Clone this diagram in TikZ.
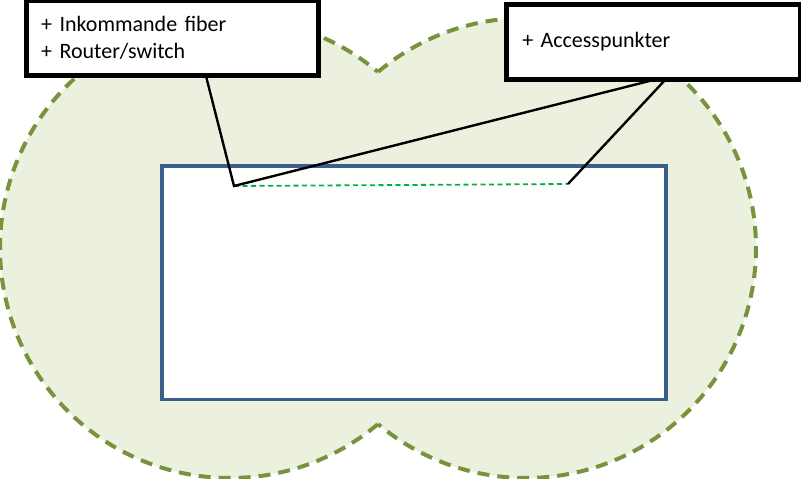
\documentclass[tikz,border=0pt]{standalone}
\usepackage{fontspec}
\setmainfont{Carlito}
\definecolor{zonefill}{HTML}{EBF1DE}
\definecolor{zoneline}{HTML}{77933C}
\definecolor{roomblue}{HTML}{3A5F8D}
\definecolor{linkgreen}{HTML}{00B050}
\begin{document}
\begin{tikzpicture}[x=1pt,y=-1pt,
  zone/.style={draw=zoneline,line width=4pt,dash pattern=on 12pt off 8pt},
  callout/.style={draw=black,line width=3.2pt,fill=white,rectangle,inner sep=0pt,
     font=\fontsize{22}{27}\selectfont,align=left},
  pointer/.style={draw=black,line width=2.4pt},
  link/.style={draw=linkgreen,line width=1.8pt,dash pattern=on 5pt off 3.5pt}]
\useasboundingbox (0,0) rectangle (801,479);
% coverage zones
\coordinate (c1) at (230,248);
\coordinate (c2) at (526,248);
\fill[zonefill] (c1) circle[radius=230];
\fill[zonefill] (c2) circle[radius=230];
\draw[zone] (c1) ++(50:230) arc[start angle=50,end angle=310,radius=230];
\draw[zone] (c2) ++(230:230) arc[start angle=230,end angle=490,radius=230];
% room
\draw[draw=roomblue,line width=3.6pt,fill=white] (161.7,165.7) rectangle (665.7,399.3);
% link points
\coordinate (p1) at (234,186);
\coordinate (p2) at (568,184);
\draw[link] (p1) -- (p2);
% callouts
\node[callout,minimum width=290.5pt,minimum height=73pt,text width=262pt] (box1) at (172.25,38)
  {+ Inkommande fiber\\+ Router/switch};
\node[callout,minimum width=292.5pt,minimum height=73pt,text width=262pt] (box2) at (653.25,42)
  {+ Accesspunkter};
\coordinate (a1) at ([xshift=33.75pt]box1.south);
\coordinate (a2) at ([xshift=-0.25pt]box2.south);
\coordinate (a3) at ([xshift=11.75pt]box2.south);
\draw[pointer] (a1) -- (p1) -- (a2);
\draw[pointer] (a3) -- (p2);
% redraw box borders on top of pointer ends
\draw[draw=black,line width=3.2pt] (box1.south west) rectangle (box1.north east);
\draw[draw=black,line width=3.2pt] (box2.south west) rectangle (box2.north east);
\end{tikzpicture}
\end{document}
